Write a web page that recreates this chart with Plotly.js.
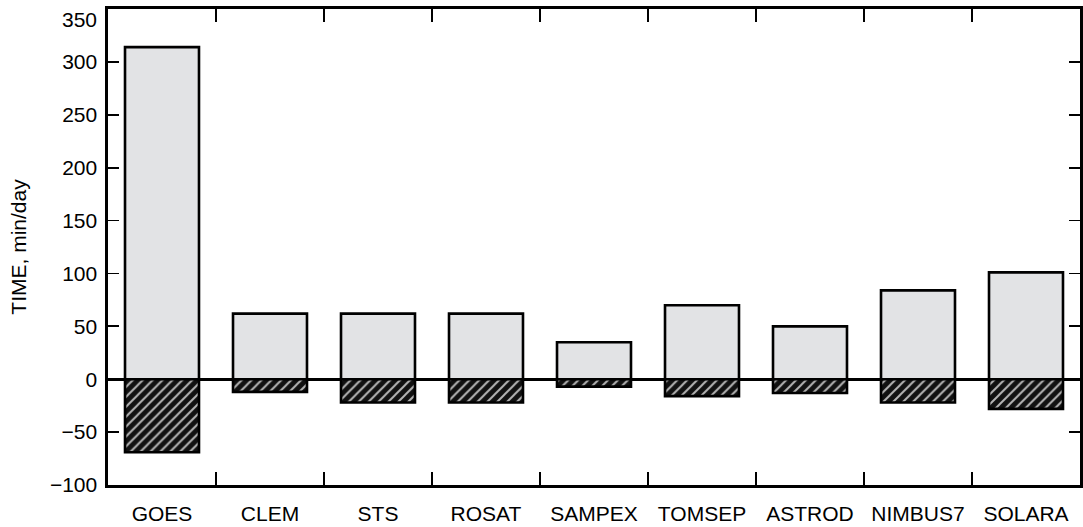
<!DOCTYPE html>
<html>
<head>
<meta charset="utf-8">
<script src="https://cdn.plot.ly/plotly-3.0.1.min.js"></script>
<style>html,body{margin:0;padding:0;background:#fff;}#chart{width:1083px;height:527px;}</style>
</head>
<body>
<div id="chart"></div>
<script>
const categories = ["GOES", "CLEM", "STS", "ROSAT", "SAMPEX", "TOMSEP", "ASTROD", "NIMBUS7", "SOLARA"];
const positiveValues = [314, 62, 62, 62, 35, 70, 50, 84, 101];
const negativeValues = [-69, -12, -22, -22, -7, -16, -13, -22, -28];
const yTickVals = [-100, -50, 0, 50, 100, 150, 200, 250, 300, 350];
const yTickText = ["\u2212100", "\u221250", "0", "50", "100", "150", "200", "250", "300", "350"];

const FONT = {family: "Liberation Sans, Arial, sans-serif", size: 21, color: "#000"};

const traces = [
  {
    type: "bar",
    x: categories,
    y: positiveValues,
    width: 0.685,
    marker: {color: "#e2e3e5", line: {color: "#000", width: 2.6}},
    hoverinfo: "x+y",
    showlegend: false
  },
  {
    type: "bar",
    x: categories,
    y: negativeValues,
    width: 0.685,
    marker: {
      color: "#111111",
      line: {color: "#000", width: 2.6},
      pattern: {shape: "/", fillmode: "replace", bgcolor: "#111111", fgcolor: "#b5b5b5", size: 7, solidity: 0.28}
    },
    hoverinfo: "x+y",
    showlegend: false
  }
];

// the top label sits inside the frame in the reference, so it is drawn as an annotation
const topIdx = yTickVals.length - 1;
const shownText = yTickText.map((t, i) => (i === topIdx ? "" : t));

const layout = {
  width: 1083,
  height: 527,
  margin: {l: 108, r: 3, t: 9, b: 42},
  paper_bgcolor: "#fff",
  plot_bgcolor: "#fff",
  font: FONT,
  barmode: "relative",
  xaxis: {
    type: "category",
    range: [-0.5, 8.5],
    showline: true, linecolor: "#000", linewidth: 2.6, mirror: "ticks",
    ticks: "inside", tickson: "boundaries", ticklen: 13, tickwidth: 1.8, tickcolor: "#000",
    ticklabelstandoff: 8,
    showgrid: false, zeroline: false,
    tickfont: FONT
  },
  yaxis: {
    range: [-100, 350],
    tickvals: yTickVals,
    ticktext: shownText,
    showline: true, linecolor: "#000", linewidth: 2.6, mirror: "ticks",
    ticks: "inside", ticklen: 11, tickwidth: 1.8, tickcolor: "#000",
    ticklabelstandoff: 4,
    showgrid: false,
    zeroline: true, zerolinecolor: "#000", zerolinewidth: 2.8,
    tickfont: FONT,
    title: {text: "TIME, min/day", font: FONT, standoff: 18}
  },
  annotations: [{
    xref: "paper", x: 0, xanchor: "right", xshift: -9,
    yref: "y", y: yTickVals[topIdx], yanchor: "middle", yshift: -10,
    text: yTickText[topIdx], showarrow: false, font: FONT
  }]
};

Plotly.newPlot("chart", traces, layout, {staticPlot: true});
</script>
</body>
</html>
